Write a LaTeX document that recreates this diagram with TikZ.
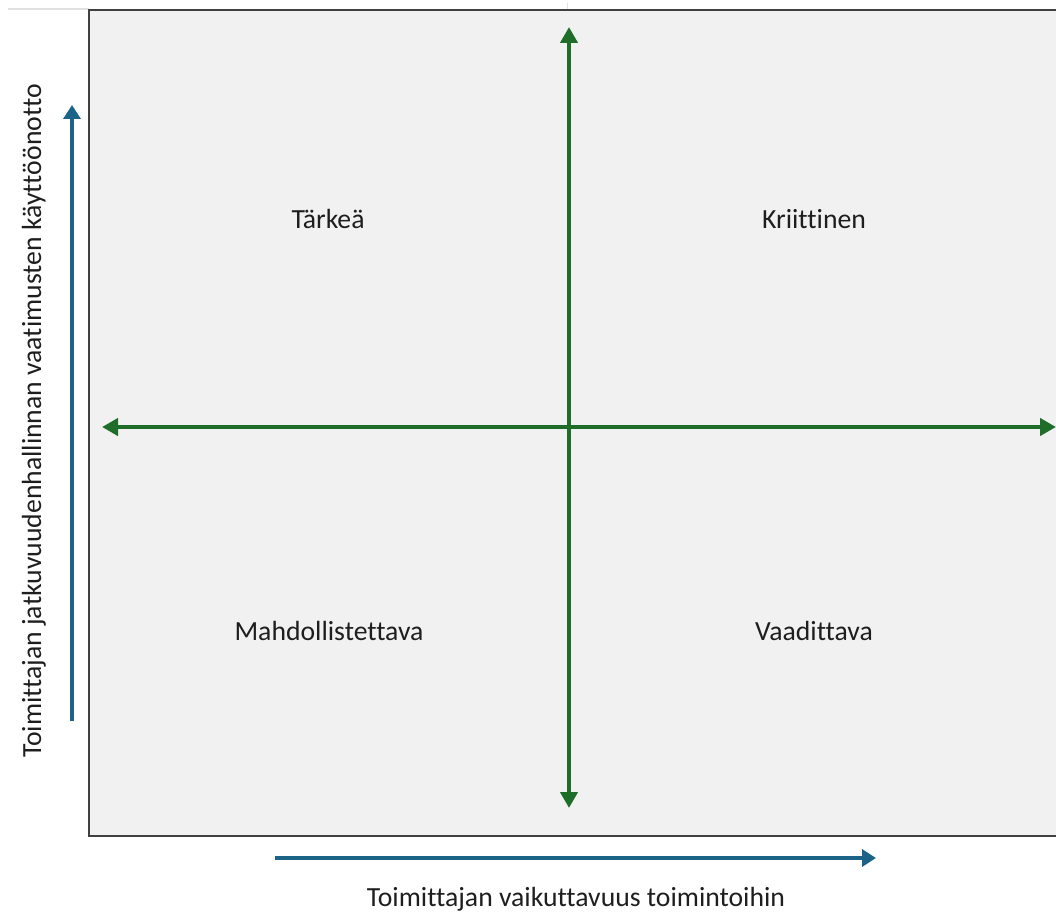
\documentclass[tikz,border=0pt]{standalone}
\usepackage{fontspec}
\setmainfont{Carlito}[Ligatures=NoCommon]
\usetikzlibrary{arrows.meta,positioning}
\definecolor{gridgreen}{RGB}{30,110,42}
\definecolor{axisblue}{RGB}{28,100,135}
\definecolor{panelgray}{RGB}{241,241,241}
\definecolor{frameline}{RGB}{64,64,64}
\definecolor{labeltext}{RGB}{30,30,30}
\tikzset{
  quadlabel/.style={font=\fontsize{27.7}{30}\selectfont,text=labeltext,anchor=base},
  axislabel/.style={font=\fontsize{27.7}{30}\selectfont,text=labeltext,anchor=base},
  panel/.style={fill=panelgray,draw=frameline,line width=2pt},
  greenarr/.style={{Triangle[length=16pt,width=17pt]}-{Triangle[length=16pt,width=17pt]},line width=4pt,color=gridgreen},
  bluearr/.style={-{Triangle[length=14pt,width=17pt]},line width=4.5pt,color=axisblue}
}

\begin{document}
\begin{tikzpicture}[x=1pt,y=-1pt]
  \useasboundingbox (0,0) rectangle (1056,912);
  \clip (0,0) rectangle (1056,912);

  % faint sheet gridline above the panel
  \draw[black!12,line width=1.5pt] (8,9) -- (89,9);
  \draw[black!12,line width=1pt] (567,3) -- (567,10);

  % quadrant panel
  \draw[panel] (89,10) rectangle (1080,836);

  % axes inside the panel
  \coordinate (vtop) at (569,27);
  \coordinate (vbot) at (569,808);
  \coordinate (hleft) at (102,427);
  \coordinate (hright) at (1056,427);
  \draw[greenarr] (vbot) -- (vtop);
  \draw[greenarr] (hleft) -- (hright);

  % quadrant names
  \node[quadlabel] (tarkea) at (328,228) {Tärkeä};
  \node[quadlabel] (kriittinen) at (814,228) {Kriittinen};
  \node[quadlabel] (mahd) at (329,640) {Mahdollistettava};
  \node[quadlabel] (vaad) at (814,640) {Vaadittava};

  % outer axes with their titles
  \coordinate (ylow) at (72,721);
  \coordinate (yhigh) at (72,105);
  \coordinate (xlow) at (275,858);
  \coordinate (xhigh) at (876,858);
  \draw[bluearr] (ylow) -- (yhigh);
  \draw[bluearr] (xlow) -- (xhigh);
  \node[axislabel] (xtitle) at (576,906) {Toimittajan vaikuttavuus toimintoihin};
  \node[axislabel,rotate=90] (ytitle) at (41,421) {Toimittajan jatkuvuudenhallinnan vaatimusten käyttöönotto};
\end{tikzpicture}
\end{document}
